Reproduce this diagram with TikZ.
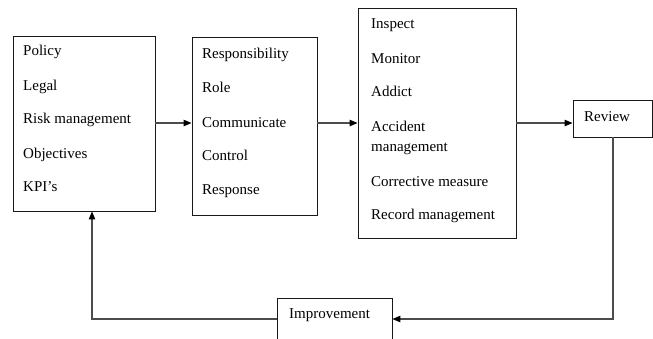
\documentclass[tikz,border=0pt]{standalone}
\usepackage{fontspec}
\setmainfont{Liberation Serif}
\usetikzlibrary{arrows.meta}
\begin{document}
\begin{tikzpicture}[x=1pt,y=-1pt,
  boxnode/.style={draw=black!90,line width=0.9pt,minimum width=#1,inner sep=0pt},
  item/.style={anchor=base west,inner sep=0pt,font=\fontsize{15}{20}\selectfont,text=black},
  conn/.style={draw=black!70,line width=1.1pt},
  arrowc/.style={conn,-{Triangle[length=8pt,width=6.5pt,color=black]}}]
\clip (0,0) rectangle (653,338);
\fill[white] (0,0) rectangle (653,338);
% boxes
\node[boxnode=142pt,minimum height=175pt] (b1) at (84,123.5) {};
\node[boxnode=125pt,minimum height=178pt] (b2) at (254.5,126) {};
\node[boxnode=158pt,minimum height=230pt] (b3) at (437,123) {};
\node[boxnode=79pt,minimum height=37pt] (rev) at (612.5,118.5) {};
\node[boxnode=115pt,minimum height=52pt] (imp) at (334.5,324) {};
% texts box 1
\node[item] (t11) at (23,55) {Policy};
\node[item] (t12) at (23,90) {Legal};
\node[item] (t13) at (23,123) {Risk management};
\node[item] (t14) at (23,158) {Objectives};
\node[item] (t15) at (23,191) {KPI's};
% texts box 2
\node[item] (t21) at (202,58) {Responsibility};
\node[item] (t22) at (202,92) {Role};
\node[item] (t23) at (202,127) {Communicate};
\node[item] (t24) at (202,160) {Control};
\node[item] (t25) at (202,194) {Response};
% texts box 3
\node[item] (t31) at (371,28) {Inspect};
\node[item] (t32) at (371,63) {Monitor};
\node[item] (t33) at (371,96) {Addict};
\node[item] (t34) at (371,131) {Accident};
\node[item] (t35) at (371,151) {management};
\node[item] (t36) at (371,186) {Corrective measure};
\node[item] (t37) at (371,219) {Record management};
% review / improvement
\node[item] (trev) at (584,121) {Review};
\node[item] (timp) at (289,318) {Improvement};
% connectors
\coordinate (row) at (0,123);
\coordinate (low) at (0,319);
\coordinate (upx) at (92,0);
\coordinate (rvx) at (613,0);
\draw[arrowc] (b1.east |- row) -- (b2.west |- row);
\draw[arrowc] (b2.east |- row) -- (b3.west |- row);
\draw[arrowc] (b3.east |- row) -- (rev.west |- row);
\draw[arrowc] (rev.south -| rvx) -- (rvx |- low) -- (imp.east |- low);
\draw[arrowc] (imp.west |- low) -- (upx |- low) -- (upx |- b1.south);
\end{tikzpicture}
\end{document}
